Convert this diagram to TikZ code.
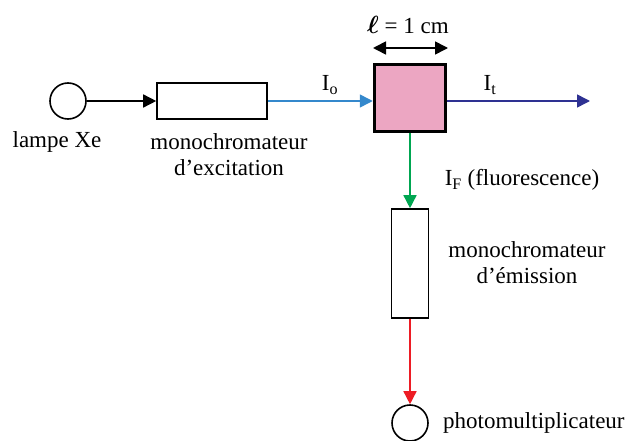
\documentclass[tikz,border=0pt]{standalone}
\usepackage{amsmath}
\usepackage{bm}
\usepackage{fontspec}
\setmainfont{Liberation Serif}
\usetikzlibrary{arrows.meta}
\definecolor{lblue}{RGB}{52,136,204}
\definecolor{dblue}{RGB}{46,49,146}
\definecolor{fgreen}{RGB}{0,166,81}
\definecolor{fred}{RGB}{237,28,36}
\definecolor{cpink}{RGB}{236,166,194}
\begin{document}
\begin{tikzpicture}[x=1pt,y=-1pt,
  every node/.style={font=\fontsize{23}{27}\selectfont},
  lbl/.style={inner sep=0pt,align=center},
  mono/.style={draw=black,line width=1.6pt,fill=white,inner sep=0pt},
  src/.style={draw=black,line width=1.6pt,circle,inner sep=0pt,minimum size=36pt},
  tip/.style={-{Triangle[length=13pt,width=13pt]}},
  beam/.style={line width=1.5pt,tip}]
\useasboundingbox (0,0) rectangle (634,441);
\node[src] (lamp) at (68,101) {};
\node[mono,minimum width=110pt,minimum height=36pt] (mono1) at (212,101) {};
\node[draw=black,line width=3.5pt,fill=cpink,minimum width=71pt,minimum height=67pt,inner sep=0pt] (cuv) at (410,98) {};
\node[mono,minimum width=37pt,minimum height=109pt] (mono2) at (410,263.5) {};
\node[src] (pm) at (410,423) {};
\coordinate (out) at (590,101);
\coordinate (dl) at (373,48);
\coordinate (dr) at (448,48);
% labels
\node[lbl] (tlamp) at (57,142) {lampe Xe};
\node[lbl] (tmono1) at (229,155) {monochromateur\\[-1pt]d’excitation};
\node[lbl] (tio) at (330,85) {I\textsubscript{o}};
\node[lbl] (tit) at (490,85) {I\textsubscript{t}};
\node[lbl] (tl) at (408,25) {$\bm{\ell}$ = 1 cm};
\node[lbl] (tif) at (522,180) {I\textsubscript{F} (fluorescence)};
\node[lbl] (tmono2) at (527,263) {monochromateur\\[-1pt]d’émission};
\node[lbl,anchor=west] (tpm) at (443,423) {photomultiplicateur};
% connectors
\draw[line width=1.5pt,black,tip] (lamp.east) -- (mono1.west);
\draw[beam,lblue] (mono1.east) -- (mono1.east -| cuv.west);
\draw[beam,dblue] (mono1.east -| cuv.east) -- (out);
\draw[beam,fgreen] (cuv.south) -- (mono2.north);
\draw[beam,fred] (mono2.south) -- (pm.north);
\draw[line width=1.6pt,{Triangle[length=13pt,width=13pt]}-{Triangle[length=13pt,width=13pt]}] (dl) -- (dr);
\end{tikzpicture}
\end{document}
